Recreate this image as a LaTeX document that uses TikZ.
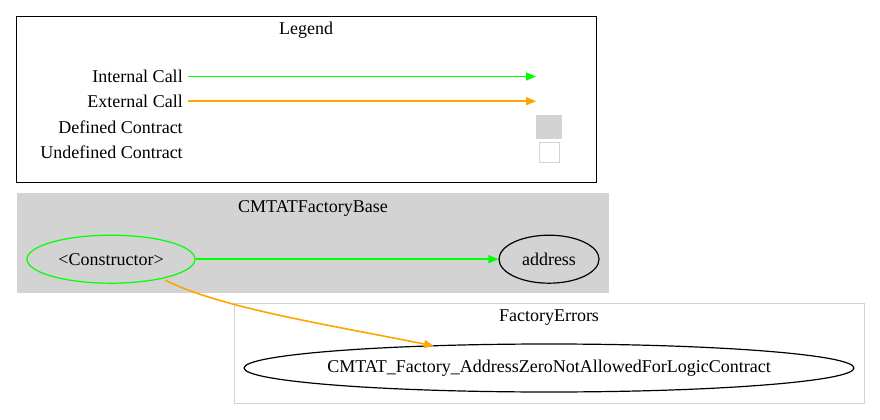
\documentclass[tikz,border=0pt]{standalone}
\usepackage{fontspec}
\setmainfont{Liberation Serif}
\usetikzlibrary{arrows.meta,shapes.geometric}
\definecolor{gvgreen}{HTML}{00FF00}
\definecolor{gvorange}{HTML}{FFA500}
\definecolor{gvgray}{HTML}{D3D3D3}
\begin{document}
\begin{tikzpicture}[x=0.75pt,y=-0.75pt,
  lbl/.style={font=\fontsize{13.5}{15}\selectfont, inner sep=0pt},
  fn/.style={ellipse, draw, font=\fontsize{13.5}{15}\selectfont, inner sep=0pt, line width=0.9pt, minimum height=36pt},
  arr/.style={-{Triangle[length=7.5pt,width=6pt]}, line width=1.2pt},
  ]
\useasboundingbox (0,0) rectangle (880,420);
% Legend
\draw[black, line width=0.9pt] (16.5,16.5) rectangle (596.5,182.5);
\node[lbl] (legtitle) at (306,30) {Legend};
\node[lbl, anchor=east] (ic) at (183,76) {Internal Call};
\node[lbl, anchor=east] (ec) at (183,101) {External Call};
\node[lbl, anchor=east] (dc) at (183,127) {Defined Contract};
\node[lbl, anchor=east] (uc) at (183,152) {Undefined Contract};
\coordinate (icstart) at (188,76.5);
\coordinate (icend) at (536,76.5);
\coordinate (ecstart) at (188,101.2);
\coordinate (ecend) at (536,101.2);
\draw[arr, gvgreen] (icstart) -- (icend);
\draw[arr, gvorange] (ecstart) -- (ecend);
\node[fill=gvgray, minimum width=19.5pt, minimum height=18pt, inner sep=0pt] (defbox) at (549,127) {};
\node[draw=gvgray, fill=white, line width=0.9pt, minimum width=15.5pt, minimum height=15.5pt, inner sep=0pt] (undefbox) at (549.5,152.5) {};
% CMTATFactoryBase cluster
\fill[gvgray] (17,193) rectangle (609,293);
\node[lbl] (basetitle) at (313,208) {CMTATFactoryBase};
\node[fn, draw=gvgreen, minimum width=126pt] (ctor) at (111,259.2) {<Constructor>};
\node[fn, draw=black, minimum width=75pt] (addr) at (549,259.2) {address};
\draw[arr, gvgreen] (ctor) -- (addr);
% FactoryErrors cluster
\draw[gvgray, line width=0.9pt] (234.5,303.5) rectangle (864.5,403.5);
\node[lbl] (errtitle) at (549,318) {FactoryErrors};
\node[fn, draw=black, minimum width=457.5pt, inner xsep=-8pt] (err) at (549,368) {CMTAT\_Factory\_AddressZeroNotAllowedForLogicContract};
\coordinate (cstart) at (165,280);
\coordinate (cend) at (434,346);
\draw[arr, gvorange] (cstart) .. controls (220,308) and (330,325) .. (cend);
\end{tikzpicture}
\end{document}
